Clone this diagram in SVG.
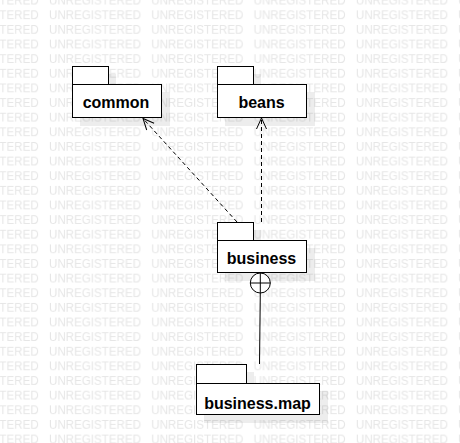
<svg xmlns="http://www.w3.org/2000/svg" width="460" height="443" viewBox="0 0 460 443">
<style>
.wm{font-family:"Liberation Sans",Arial,sans-serif;font-size:12px;fill:#e6e6e6}
.box{fill:#fff;stroke:#000;stroke-width:1}
.shadow{fill:#000;fill-opacity:0.07;stroke:none}
.lbl{font-family:"Liberation Sans",Arial,sans-serif;font-size:16px;font-weight:bold;fill:#000;text-anchor:middle}
.dep{fill:none;stroke:#000;stroke-width:1;stroke-dasharray:4 3}
.solid{fill:none;stroke:#000;stroke-width:1}
</style>
<defs>
<pattern id="wmp" x="49" y="-7.2" width="102.3" height="14.63" patternUnits="userSpaceOnUse">
<text class="wm" x="0" y="12" textLength="92" lengthAdjust="spacingAndGlyphs">UNREGISTERED</text>
</pattern>
<marker id="open" viewBox="-13 -7 15 14" refX="0" refY="0" markerWidth="15" markerHeight="14" orient="auto" markerUnits="userSpaceOnUse">
<path d="M-11,-5 L0,0 L-11,5" fill="none" stroke="#000" stroke-width="1"/>
</marker>
</defs>
<rect width="460" height="443" fill="#fff"/>
<rect width="460" height="443" fill="url(#wmp)"/>

<g id="common">
<rect class="shadow" x="80" y="74" width="36" height="18"/>
<rect class="shadow" x="80" y="92" width="90" height="34"/>
<rect class="box" x="72.5" y="66.5" width="36" height="18"/>
<rect class="box" x="72.5" y="84.5" width="89" height="33"/>
<text class="lbl" x="116" y="108">common</text>
</g>

<g id="beans">
<rect class="shadow" x="225" y="74" width="36" height="18"/>
<rect class="shadow" x="225" y="92" width="90" height="34"/>
<rect class="box" x="217.5" y="66.5" width="36" height="18"/>
<rect class="box" x="217.5" y="84.5" width="89" height="33"/>
<text class="lbl" x="261.5" y="108">beans</text>
</g>

<g id="business">
<rect class="shadow" x="225" y="230" width="36" height="18"/>
<rect class="shadow" x="225" y="248" width="90" height="33"/>
<rect class="box" x="217.5" y="222.5" width="36" height="18"/>
<rect class="box" x="217.5" y="240.5" width="89" height="32"/>
<text class="lbl" x="261.5" y="263.5">business</text>
</g>

<g id="business.map">
<rect class="shadow" x="204" y="372" width="50" height="19"/>
<rect class="shadow" x="204" y="391" width="124" height="32"/>
<rect class="box" x="196.5" y="364.5" width="50" height="19"/>
<rect class="box" x="196.5" y="383.5" width="123" height="31"/>
<text class="lbl" x="257.5" y="408.5">business.map</text>
</g>

<g id="connectors">
<line class="dep" x1="237" y1="222" x2="143" y2="118.5" marker-end="url(#open)"/>
<line class="dep" x1="261.5" y1="222" x2="261.5" y2="118" marker-end="url(#open)"/>
<line class="solid" x1="259.5" y1="364" x2="260.3" y2="293"/>
<circle cx="260.3" cy="283" r="10" fill="#fff" stroke="#000" stroke-width="1"/>
<line class="solid" x1="250.3" y1="283" x2="270.3" y2="283"/>
<line class="solid" x1="260.3" y1="273" x2="260.3" y2="293"/>
</g>
</svg>
